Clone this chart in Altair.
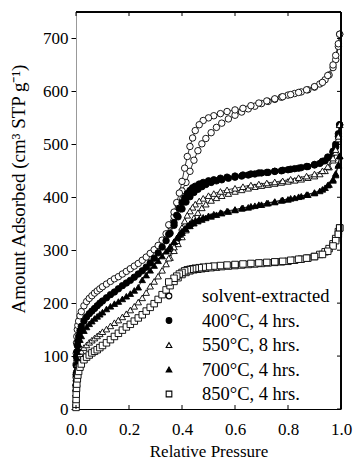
import altair as alt
import pandas as pd

series_names = ["solvent-extracted", "400°C, 4 hrs.", "550°C, 8 hrs.", "700°C, 4 hrs.", "850°C, 4 hrs."]
shapes = ["circle", "circle", "triangle-up", "triangle-up", "square"]
fills = ["white", "black", "white", "black", "white"]
legend_rows = [0, 1, 2, 3, 4]

# adsorption branch relative pressures
p_ads = [0.0001, 0.0002, 0.0005, 0.001, 0.002, 0.003, 0.005, 0.007, 0.01, 0.015, 0.02, 0.03, 0.04, 0.05,
         0.06, 0.07, 0.08, 0.09, 0.10, 0.115, 0.13, 0.145, 0.16, 0.175, 0.19, 0.205, 0.22, 0.235, 0.25,
         0.265, 0.28, 0.295, 0.31, 0.325, 0.34, 0.355, 0.37, 0.385, 0.40, 0.415, 0.43, 0.445, 0.46, 0.475,
         0.49, 0.51, 0.53, 0.55, 0.575, 0.60, 0.625, 0.65, 0.675, 0.70, 0.725, 0.75, 0.775, 0.80, 0.825,
         0.85, 0.875, 0.90, 0.92, 0.94, 0.955, 0.97, 0.98, 0.99, 0.995]

ads_solvent = [45, 60, 85, 105, 125, 137, 150, 158, 166, 176, 184, 195, 203, 209,
               214, 219, 223, 227, 231, 236, 241, 246, 250, 255, 260, 265, 270, 275, 281,
               287, 294, 301, 309, 319, 331, 346, 364, 386, 412, 428, 449, 470, 488, 501,
               511, 522, 532, 540, 548, 555, 561, 567, 572, 577, 581, 585, 589, 593, 596,
               599, 603, 608, 614, 622, 631, 645, 660, 685, 708]
ads_400 = [35, 45, 65, 82, 98, 108, 120, 128, 137, 148, 156, 166, 174, 180,
           185, 190, 195, 200, 204, 210, 216, 221, 227, 233, 238, 243, 249, 255, 261,
           268, 276, 285, 295, 306, 318, 332, 347, 363, 378, 391, 401, 409, 415, 420,
           424, 428, 431, 433, 436, 438, 440, 442, 444, 446, 447, 449, 450, 452, 454,
           456, 458, 461, 464, 469, 475, 485, 495, 515, 537]
ads_550 = [20, 30, 45, 58, 70, 77, 85, 91, 97, 104, 109, 116, 121, 126,
           130, 134, 138, 142, 146, 151, 157, 163, 168, 174, 180, 187, 194, 202, 210,
           220, 232, 241, 251, 262, 274, 286, 299, 312, 325, 338, 350, 361, 371, 380,
           387, 394, 399, 403, 407, 411, 414, 417, 420, 422, 424, 426, 428, 430, 432,
           434, 437, 440, 444, 450, 457, 470, 485, 510, 537]
ads_700 = [30, 40, 58, 74, 88, 97, 108, 115, 122, 131, 138, 148, 155, 161,
           166, 171, 175, 179, 183, 189, 194, 199, 203, 208, 213, 218, 224, 230, 244,
           253, 262, 271, 280, 289, 298, 307, 316, 325, 333, 340, 346, 351, 355, 358,
           361, 364, 367, 370, 373, 376, 379, 381, 384, 386, 389, 391, 394, 396, 399,
           402, 405, 408, 412, 418, 424, 432, 442, 460, 478]
ads_850 = [3, 9, 18, 28, 39, 47, 57, 64, 71, 79, 85, 93, 98, 102,
           106, 109, 112, 116, 120, 125, 131, 137, 143, 149, 155, 160, 166, 172, 178,
           185, 192, 199, 207, 216, 225, 233, 241, 248, 254, 258, 261, 263, 264, 265,
           266, 267, 268, 269, 270, 271, 272, 273, 274, 275, 276, 277, 278, 279, 281,
           283, 285, 288, 292, 297, 303, 312, 322, 335, 342]

# desorption branch relative pressures
p_des = [0.995, 0.99, 0.98, 0.97, 0.95, 0.93, 0.90, 0.87, 0.84, 0.81, 0.78, 0.75, 0.72, 0.69, 0.66,
         0.63, 0.60, 0.57, 0.545, 0.52, 0.50, 0.48, 0.465, 0.45, 0.44, 0.43, 0.42, 0.41, 0.40, 0.39,
         0.38, 0.37, 0.35]

des_solvent = [708, 690, 668, 650, 630, 617, 609, 603, 598, 594, 590, 586, 582, 578, 573,
               568, 565, 562, 558, 554, 550, 545, 537, 526, 512, 496, 477, 455, 430, 408,
               390, 372, 348]
des_400 = [537, 520, 500, 487, 476, 468, 462, 458, 455, 453, 451, 449, 447, 446, 444,
           442, 440, 438, 436, 433, 431, 428, 425, 421, 418, 413, 407, 399, 390, 379,
           366, 352, 330]
des_550 = [537, 515, 490, 474, 458, 450, 444, 440, 437, 434, 431, 429, 427, 425, 423,
           420, 417, 414, 411, 407, 403, 398, 393, 387, 381, 374, 366, 355, 343, 330,
           318, 306, 285]
des_700 = [478, 462, 445, 434, 423, 415, 409, 405, 401, 398, 395, 392, 389, 386, 383,
           380, 377, 374, 371, 368, 365, 362, 359, 356, 353, 350, 346, 341, 336, 330,
           323, 316, 302]
des_850 = [342, 330, 318, 308, 298, 292, 288, 285, 283, 281, 279, 278, 277, 276, 275,
           274, 273, 272, 271, 270, 269, 268, 267, 266, 265, 264, 263, 261, 258, 255,
           251, 247, 240]

x_ticks = [0.0, 0.2, 0.4, 0.6, 0.8, 1.0]
y_ticks = [0, 100, 200, 300, 400, 500, 600, 700]

ads_all = [ads_solvent, ads_400, ads_550, ads_700, ads_850]
des_all = [des_solvent, des_400, des_550, des_700, des_850]

rows = []
for name, ads, des in zip(series_names, ads_all, des_all):
    for i, (p, v) in enumerate(zip(p_ads, ads)):
        rows.append({"series": name, "branch": name + " ads", "order": i, "p": p, "v": v})
    for i, (p, v) in enumerate(zip(p_des, des)):
        rows.append({"series": name, "branch": name + " des", "order": i, "p": p, "v": v})
df = pd.DataFrame(rows)
legend_df = pd.DataFrame({"series": series_names, "row": legend_rows})

W, H = 265, 397
FONT = "Liberation Serif"

xscale = alt.Scale(domain=[0, 1], nice=False, zero=False)
yscale = alt.Scale(domain=[0, 750], nice=False)
shape_scale = alt.Scale(domain=series_names, range=shapes)
fill_scale = alt.Scale(domain=series_names, range=fills)

xenc = alt.X("p:Q", scale=xscale,
             axis=alt.Axis(title="Relative Pressure", values=x_ticks, format=".1f", ticks=False,
                           grid=False, domainColor="black", domainWidth=1, labelPadding=12,
                           labelFlush=False,
                           labelFont=FONT, labelFontSize=17, labelColor="black",
                           titleFont=FONT, titleFontSize=17, titleFontWeight="normal",
                           titleColor="black", titleY=47, titleBaseline="alphabetic"))
yenc = alt.Y("v:Q", scale=yscale,
             axis=alt.Axis(title="Amount Adsorbed (cm³ STP g⁻¹)", values=y_ticks, ticks=True,
                           tickSize=5, tickColor="black", grid=False, domainColor="#999999",
                           domainWidth=1, labelPadding=3, labelFlush=False,
                           labelFont=FONT, labelFontSize=17,
                           labelColor="black", titleFont=FONT, titleFontSize=19,
                           titleFontWeight="normal", titleColor="black", titleX=-67,
                           titleY=H / 2 - 22, titleAngle=-90, titleAlign="center",
                           titleBaseline="top"))

lines = alt.Chart(df).mark_line(color="black", strokeWidth=0.8).encode(
    x=xenc, y=yenc, detail="branch:N", order="order:Q")

points = alt.Chart(df).mark_point(stroke="black", strokeWidth=0.9, size=42, opacity=1,
                                  fillOpacity=1).encode(
    x=alt.X("p:Q", scale=xscale),
    y=alt.Y("v:Q", scale=yscale),
    shape=alt.Shape("series:N", scale=shape_scale, legend=None),
    fill=alt.Fill("series:N", scale=fill_scale, legend=None),
)

xt = pd.DataFrame({"t": x_ticks})
yt = pd.DataFrame({"t": y_ticks})

bottom_ticks = alt.Chart(xt).mark_rule(color="black", strokeWidth=1).encode(
    x=alt.X("t:Q", scale=xscale), y=alt.value(H), y2=alt.value(H - 4))
top_ticks = alt.Chart(xt).mark_rule(color="black", strokeWidth=1).encode(
    x=alt.X("t:Q", scale=xscale), y=alt.value(0), y2=alt.value(4))
right_ticks = alt.Chart(yt).mark_rule(color="black", strokeWidth=1).encode(
    y=alt.Y("t:Q", scale=yscale), x=alt.value(W), x2=alt.value(W - 4))
top_border = alt.Chart(xt).mark_rule(color="black", strokeWidth=1).encode(
    x=alt.value(0), x2=alt.value(W), y=alt.value(0))
right_border = alt.Chart(xt).mark_rule(color="black", strokeWidth=1).encode(
    x=alt.value(W), y=alt.value(0), y2=alt.value(H))

main = alt.layer(lines, points, bottom_ticks, top_ticks, right_ticks, top_border, right_border)

# legend drawn as its own layer, rows placed through an ordinal point scale
row_scale = alt.Scale(type="point", domain=legend_rows, range=[284, 382], padding=0)
leg_pts = alt.Chart(legend_df).mark_point(stroke="black", strokeWidth=1.1, size=32, opacity=1,
                                          fillOpacity=1, strokeOpacity=1).encode(
    x=alt.value(93),
    y=alt.Y("row:O", scale=row_scale, axis=None),
    shape=alt.Shape("series:N", scale=shape_scale, legend=None),
    fill=alt.Fill("series:N", scale=fill_scale, legend=None),
    stroke=alt.value("black"),
)
leg_txt = alt.Chart(legend_df).mark_text(align="left", baseline="middle", font=FONT,
                                         fontSize=18.5, color="black").encode(
    x=alt.value(126),
    y=alt.Y("row:O", scale=row_scale, axis=None),
    text="series:N",
)
legend_layer = alt.layer(leg_pts, leg_txt)

chart = alt.layer(main, legend_layer).resolve_scale(y="independent").properties(
    width=W, height=H,
    padding={"left": 76, "top": 12, "right": 14, "bottom": 57},
    autosize=alt.AutoSizeParams(type="none"),
).configure_view(stroke=None).configure(background="white")

chart.save("out.html", embed_options={"renderer": "svg", "actions": False})
